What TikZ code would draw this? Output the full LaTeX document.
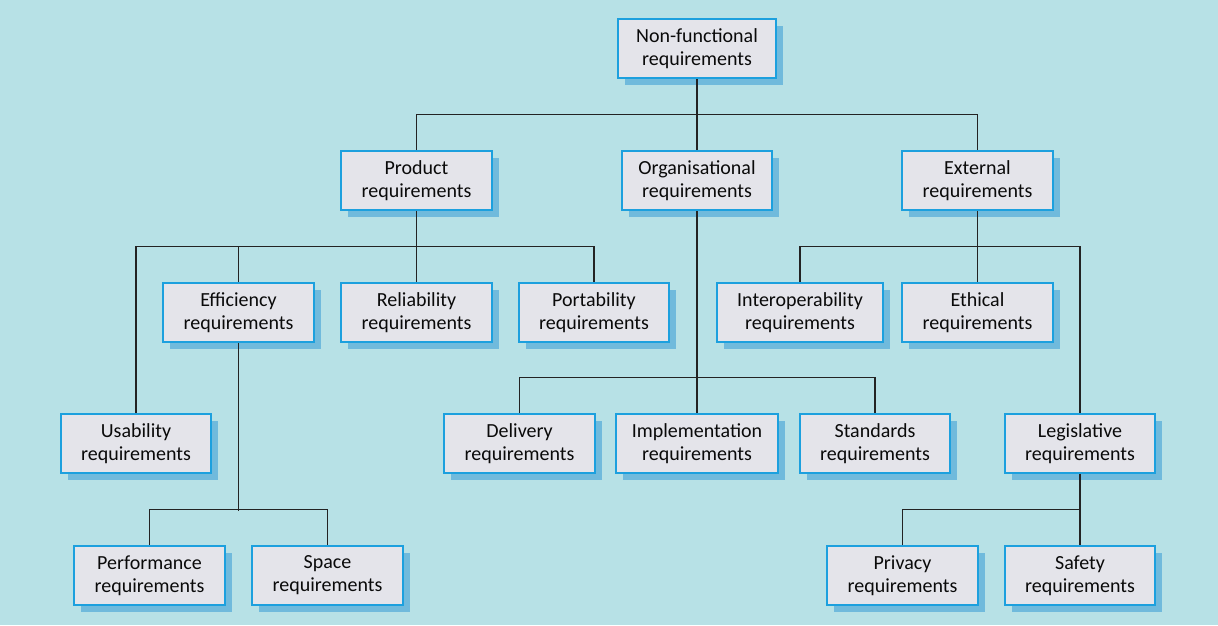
\documentclass[tikz,border=0pt]{standalone}
\usepackage{fontspec}
\setmainfont{Carlito}
\definecolor{bgc}{RGB}{183,225,230}
\definecolor{boxfill}{RGB}{228,228,234}
\definecolor{boxline}{RGB}{28,160,222}
\definecolor{shad}{RGB}{112,186,220}
\definecolor{linec}{RGB}{35,35,35}
\definecolor{txt}{RGB}{10,10,10}
\tikzset{
  req/.style={draw=boxline, line width=1.8pt, fill=boxfill, text=txt,
    minimum height=59pt, minimum width=151pt, inner sep=0pt, align=center,
    font=\fontsize{20}{23}\selectfont,
    preaction={draw=none, fill=shad, transform canvas={xshift=7pt,yshift=-7pt}}},
  conn/.style={draw=linec, line width=1.1pt}
}
\begin{document}
\begin{tikzpicture}[x=1pt,y=-1pt]
\fill[bgc] (0,0) rectangle (1218,625);
\useasboundingbox (0,0) rectangle (1218,625);
% level 0
\node[req, minimum width=158pt] (nf) at (697,48.5) {Non-functional\\requirements};
% level 1
\node[req] (prod) at (416.5,180.5) {Product\\requirements};
\node[req, minimum width=150pt] (org) at (697,180.5) {Organisational\\requirements};
\node[req] (ext) at (977.5,180.5) {External\\requirements};
% level 2
\node[req] (eff) at (238.5,312.5) {Efficiency\\requirements};
\node[req] (rel) at (416.5,312.5) {Reliability\\requirements};
\node[req, minimum width=150pt] (port) at (594,312.5) {Portability\\requirements};
\node[req, minimum width=166pt] (interop) at (800,312.5) {Interoperability\\requirements};
\node[req] (eth) at (977.5,312.5) {Ethical\\requirements};
% level 3
\node[req, minimum width=150pt] (usab) at (136,443.5) {Usability\\requirements};
\node[req] (deliv) at (519.5,443.5) {Delivery\\requirements};
\node[req, minimum width=162pt] (impl) at (697,443.5) {Implementation\\requirements};
\node[req, minimum width=150pt] (std) at (875,443.5) {Standards\\requirements};
\node[req, minimum width=150pt] (legis) at (1080,443.5) {Legislative\\requirements};
% level 4
\node[req] (perf) at (149.5,575.5) {Performance\\requirements};
\node[req] (space) at (327.5,575.5) {Space\\requirements};
\node[req] (priv) at (902.5,575.5) {Privacy\\requirements};
\node[req, minimum width=150pt] (safe) at (1080,575.5) {Safety\\requirements};
% connectors
\draw[conn] (nf.south) -- (org.north);
\draw[conn] (prod.north) -- ++(0,-36) -| (ext.north);
\draw[conn] (prod.south) -- (rel.north);
\draw[conn] (usab.north) -- ++(0,-167) -| (port.north);
\draw[conn] (eff.north) -- ++(0,-36);
\draw[conn] (org.south) -- (impl.north);
\draw[conn] (deliv.north) -- ++(0,-36) -| (std.north);
\draw[conn] (ext.south) -- (eth.north);
\draw[conn] (interop.north) -- ++(0,-36) -| (legis.north);
\draw[conn] (eff.south) -- ++(0,168);
\draw[conn] (perf.north) -- ++(0,-36) -| (space.north);
\draw[conn] (legis.south) -- (safe.north);
\draw[conn] (priv.north) -- ++(0,-36) -| (safe.north);
\end{tikzpicture}
\end{document}
